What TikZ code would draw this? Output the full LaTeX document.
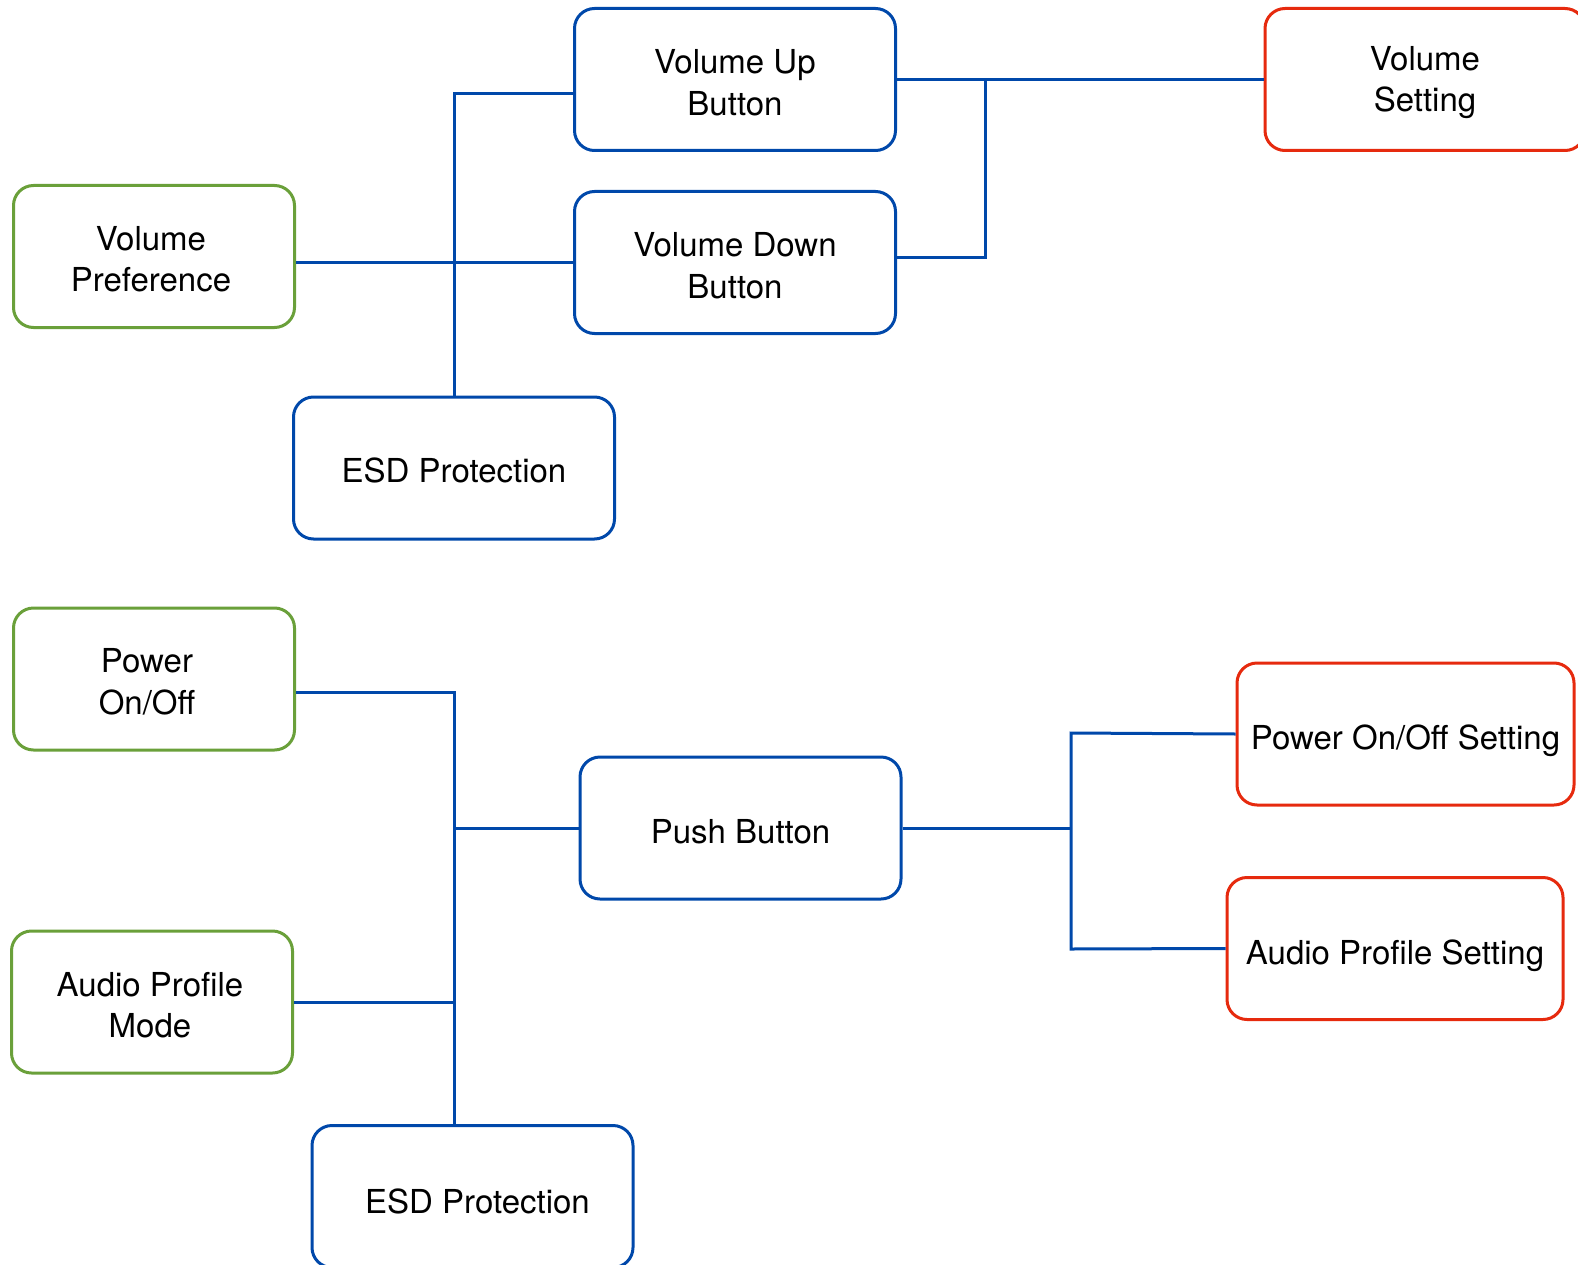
\documentclass[tikz,border=0pt]{standalone}
\usepackage{fontspec}
\setmainfont{TeX Gyre Heros}
\definecolor{lblue}{RGB}{0,72,170}
\definecolor{lgreen}{RGB}{106,160,58}
\definecolor{lred}{RGB}{230,42,14}
\tikzset{
  box/.style={draw, rectangle, rounded corners=20pt, line width=3pt, fill=white,
    inner sep=0pt, minimum height=142pt},
  bluebox/.style={box, draw=lblue, minimum width=321pt},
  greenbox/.style={box, draw=lgreen, minimum width=281pt},
  redbox/.style={box, draw=lred},
  txt/.style={align=center, inner sep=0pt, font=\fontsize{33}{41.5}\selectfont},
  conn/.style={draw=lblue, line width=3pt}
}
\begin{document}
\begin{tikzpicture}[x=1pt,y=-1pt]
\useasboundingbox (0,0) rectangle (1578,1265);
\clip (0,0) rectangle (1578,1265);
\coordinate (j1) at (454,94);
\coordinate (j2) at (985,79.5);
\coordinate (j3) at (985,257);
\coordinate (j4) at (454,692);
\coordinate (j5) at (1071,733);
\coordinate (j6) at (1071,949);
% boxes
\node[greenbox] (vp) at (154,256.5) {};
\node[bluebox] (vu) at (735,79.5) {};
\node[bluebox] (vd) at (735,262.5) {};
\node[bluebox] (esd1) at (454,468) {};
\node[redbox, minimum width=320pt] (vs) at (1425,79.5) {};
\node[greenbox] (po) at (154,679) {};
\node[bluebox] (pb) at (740.5,828) {};
\node[greenbox] (apm) at (152,1002) {};
\node[bluebox] (esd2) at (472.5,1196.5) {};
\node[redbox, minimum width=337pt] (pos) at (1405.5,734) {};
\node[redbox, minimum width=336pt] (aps) at (1395,948.5) {};
% texts
\node[txt] (vp-t) at ([xshift=-3pt,yshift=-2.5pt]vp.center) {Volume\\Preference};
\node[txt] (vu-t) at ([yshift=-3pt]vu.center) {Volume Up\\Button};
\node[txt] (vd-t) at ([yshift=-3pt]vd.center) {Volume Down\\Button};
\node[txt] (esd1-t) at ([yshift=-2.5pt]esd1.center) {ESD Protection};
\node[txt] (vs-t) at ([yshift=-3pt]vs.center) {Volume\\Setting};
\node[txt] (po-t) at ([xshift=-7pt,yshift=-3pt]po.center) {Power\\On/Off};
\node[txt] (pb-t) at ([yshift=-3.5pt]pb.center) {Push Button};
\node[txt] (apm-t) at ([xshift=-2pt,yshift=-3pt]apm.center) {Audio Profile\\Mode};
\node[txt] (esd2-t) at ([xshift=5pt,yshift=-5pt]esd2.center) {ESD Protection};
\node[txt] (pos-t) at ([yshift=-7pt]pos.center) {Power On/Off Setting};
\node[txt] (aps-t) at ([yshift=-7pt]aps.center) {Audio Profile Setting};
% connectors
\draw[conn] (esd1.north) -- (j1) -- (j1 -| vu.west);
\draw[conn] (vd.west -| vp.east) -- (vd.west);
\draw[conn] (vu.east) -- (vs.west);
\draw[conn] (j2) -- (j3) -- (j3 -| vd.east);
\draw[conn] (j4 -| po.east) -- (j4) -- (j4 |- esd2.north);
\draw[conn] (pb.west -| j4) -- (pb.west);
\draw[conn] (apm.east) -- (apm.east -| j4);
\draw[conn] (pb.east) -- (pb.east -| j5);
\draw[conn] (pos.west) -- (j5) -- (j6) -- (aps.west);
\end{tikzpicture}
\end{document}
